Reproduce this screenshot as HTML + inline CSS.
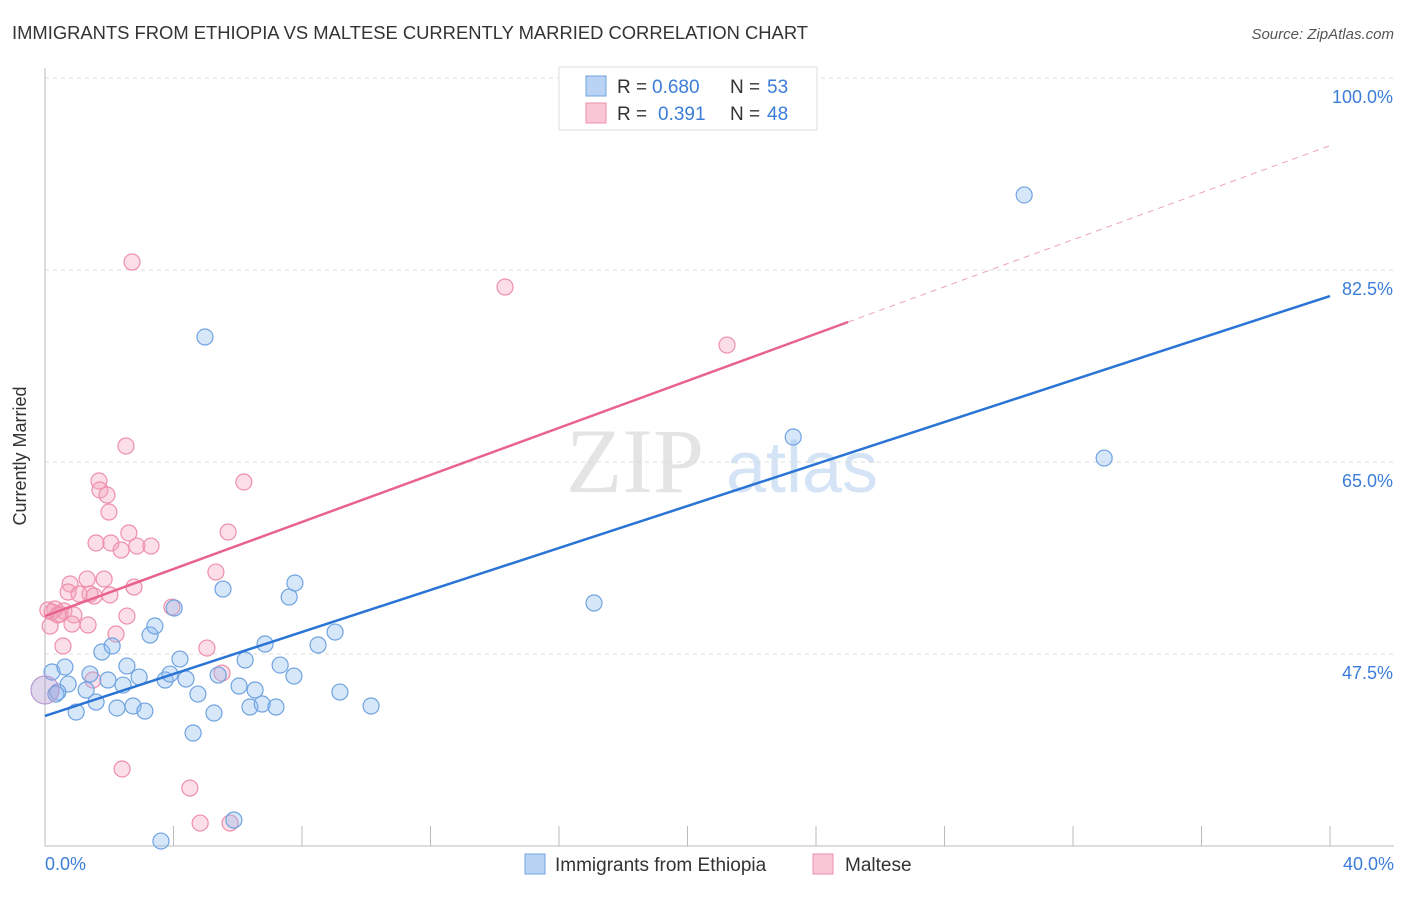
<!DOCTYPE html>
<html><head><meta charset="utf-8"><style>
body{margin:0;background:#fff;font-family:"Liberation Sans",sans-serif;}
</style></head><body>
<svg id="c" width="1406" height="892" xmlns="http://www.w3.org/2000/svg">
<text x="12" y="39" font-size="18" fill="#333" textLength="796" lengthAdjust="spacingAndGlyphs">IMMIGRANTS FROM ETHIOPIA VS MALTESE CURRENTLY MARRIED CORRELATION CHART</text>
<text x="1394" y="39" font-size="15" fill="#555" font-style="italic" text-anchor="end">Source: ZipAtlas.com</text>
<text x="635" y="492" font-size="92" fill="#e4e4e4" font-family="Liberation Serif,serif" text-anchor="middle">ZIP</text>
<text x="802" y="492" font-size="72" fill="#d4e4f6" text-anchor="middle">atlas</text>
<g id="grid"></g>
<line x1="45" y1="68" x2="45" y2="846" stroke="#bbb"/>
<line x1="45" y1="846" x2="1394" y2="846" stroke="#bbb"/>
<text x="28" y="456" font-size="18" fill="#333" text-anchor="middle" transform="rotate(-90 28 456)" dy="-2">Currently Married</text>
<text x="45" y="870" font-size="18" fill="#3b7dd8">0.0%</text>
<text x="1394" y="870" font-size="18" fill="#3b7dd8" text-anchor="end">40.0%</text>
<g id="pts"></g>
<g id="lines"></g>
<g>
<rect x="559" y="67" width="258" height="63" fill="#fff" stroke="#ddd"/>
<rect x="586" y="76" width="20" height="20" fill="#b9d3f4" stroke="#6fa3e0"/>
<rect x="586" y="103" width="20" height="20" fill="#f9c6d5" stroke="#ee8fac"/>
<text x="617" y="93" font-size="19" fill="#333">R =</text>
<text x="652" y="93" font-size="19" fill="#3b7dd8">0.680</text>
<text x="730" y="93" font-size="19" fill="#333">N =</text>
<text x="767" y="93" font-size="19" fill="#3b7dd8">53</text>
<text x="617" y="120" font-size="19" fill="#333">R =</text>
<text x="658" y="120" font-size="19" fill="#3b7dd8">0.391</text>
<text x="730" y="120" font-size="19" fill="#333">N =</text>
<text x="767" y="120" font-size="19" fill="#3b7dd8">48</text>
</g>
<g>
<rect x="525" y="854" width="20" height="20" fill="#b9d3f4" stroke="#6fa3e0"/>
<text x="555" y="871" font-size="19" fill="#333">Immigrants from Ethiopia</text>
<rect x="813" y="854" width="20" height="20" fill="#f9c6d5" stroke="#ee8fac"/>
<text x="845" y="871" font-size="19" fill="#333">Maltese</text>
</g>
</svg>
<script>
const yTicks=[47.5,65.0,82.5,100.0];
const xTickVals=[0,4,8,12,16,20,24,28,32,36,40];
const blueX=[0.22,0.62,0.72,0.40,0.34,0.97,1.28,1.40,1.59,1.77,2.09,1.96,2.24,2.43,2.55,2.74,2.93,3.11,3.27,3.42,3.74,3.89,4.02,4.20,4.39,4.61,4.76,4.98,5.26,5.39,5.54,6.04,6.23,6.38,6.54,6.76,6.85,7.19,7.32,7.60,7.75,7.78,8.50,9.03,9.18,10.15,3.61,5.88,17.09,23.29,30.48,32.97];
const blueY=[45.86,46.31,44.76,44.03,43.85,42.21,44.22,45.67,43.12,47.68,48.23,45.13,42.58,44.67,46.40,42.76,45.40,42.30,49.23,50.05,45.13,45.67,51.69,47.04,45.22,40.30,43.85,76.39,42.12,45.58,53.42,44.58,46.95,42.67,44.22,42.94,48.41,42.67,46.49,52.69,45.49,53.97,48.32,49.50,44.03,42.76,30.45,32.37,52.15,67.28,89.34,65.36];
const pinkX=[2.71,14.32,21.23,2.52,1.68,6.19,1.71,1.93,1.99,2.61,5.70,1.59,2.05,2.37,2.86,3.30,5.32,0.78,1.31,1.84,2.77,0.72,1.06,1.40,1.53,2.02,0.31,0.22,0.47,0.59,2.55,3.95,0.90,1.34,0.84,0.16,2.21,0.56,5.04,5.51,1.49,2.40,4.51,4.83,5.76,0.09,0.40];
const pinkY=[83.23,80.95,75.66,66.46,63.27,63.18,62.45,61.99,60.44,58.53,58.62,57.62,57.62,56.98,57.34,57.34,54.97,53.88,54.33,54.33,53.60,53.15,52.97,52.97,52.78,52.88,51.60,51.33,51.14,51.42,50.96,51.78,51.06,50.14,50.23,50.05,49.32,48.23,48.04,45.76,45.13,37.02,35.28,32.09,32.09,51.51,51.06];
const bigX=[0,0];const bigY=[44.22,44.22];
const blueFit=[41.85,0.957];
const pinkFit=[50.96,1.072,25.0];
const X=v=>45+v*1285/40;
const Y=v=>78+(100-v)*192/17.5;
const NS="http://www.w3.org/2000/svg";
function mk(t,a,p){const e=document.createElementNS(NS,t);for(const k in a)e.setAttribute(k,a[k]);p.appendChild(e);return e;}
const grid=document.getElementById('grid');
yTicks.forEach(v=>{
 const l=mk('line',{x1:45,x2:1394,y1:Y(v),y2:Y(v),stroke:'#ddd','stroke-dasharray':'4,4'},grid);
 
 
 const t=mk('text',{x:1393,y:Y(v)+25,'font-size':18,fill:'#3b7dd8','text-anchor':'end'},grid);
 t.textContent=v.toFixed(1)+'%';
 
 
});
xTickVals.forEach(v=>{
 const l=mk('line',{x1:X(v),x2:X(v),y1:826,y2:846,stroke:'#bbb'},grid);
 
 
});
const pts=document.getElementById('pts');
function dots(xs,ys,fill,stroke,name,r){
 xs.forEach((x,i)=>{
  const c=mk('circle',{cx:X(x),cy:Y(ys[i]),r:r,fill:fill,stroke:stroke,'stroke-width':1.2},pts);
  
  
 });
}
dots(pinkX,pinkY,'rgba(244,160,185,0.35)','#ee8fac','maltese-point',8);
dots(blueX,blueY,'rgba(140,185,240,0.35)','#6fa3e0','ethiopia-point',8);
dots([bigX[0]],[bigY[0]],'rgba(170,140,200,0.35)','#b89ad0','overlap-point',14);
const lines=document.getElementById('lines');
let b=mk('line',{x1:X(0),y1:Y(blueFit[0]),x2:X(40),y2:Y(blueFit[0]+blueFit[1]*40),stroke:'#2a74d6','stroke-width':2.5},lines);


let p=mk('line',{x1:X(0),y1:Y(pinkFit[0]),x2:X(pinkFit[2]),y2:Y(pinkFit[0]+pinkFit[1]*pinkFit[2]),stroke:'#e8638c','stroke-width':2.5},lines);


let pd=mk('line',{x1:X(pinkFit[2]),y1:Y(pinkFit[0]+pinkFit[1]*pinkFit[2]),x2:X(40),y2:Y(pinkFit[0]+pinkFit[1]*40),stroke:'#eea0b8','stroke-width':1,'stroke-dasharray':'6,5'},lines);


</script>
</body></html>
